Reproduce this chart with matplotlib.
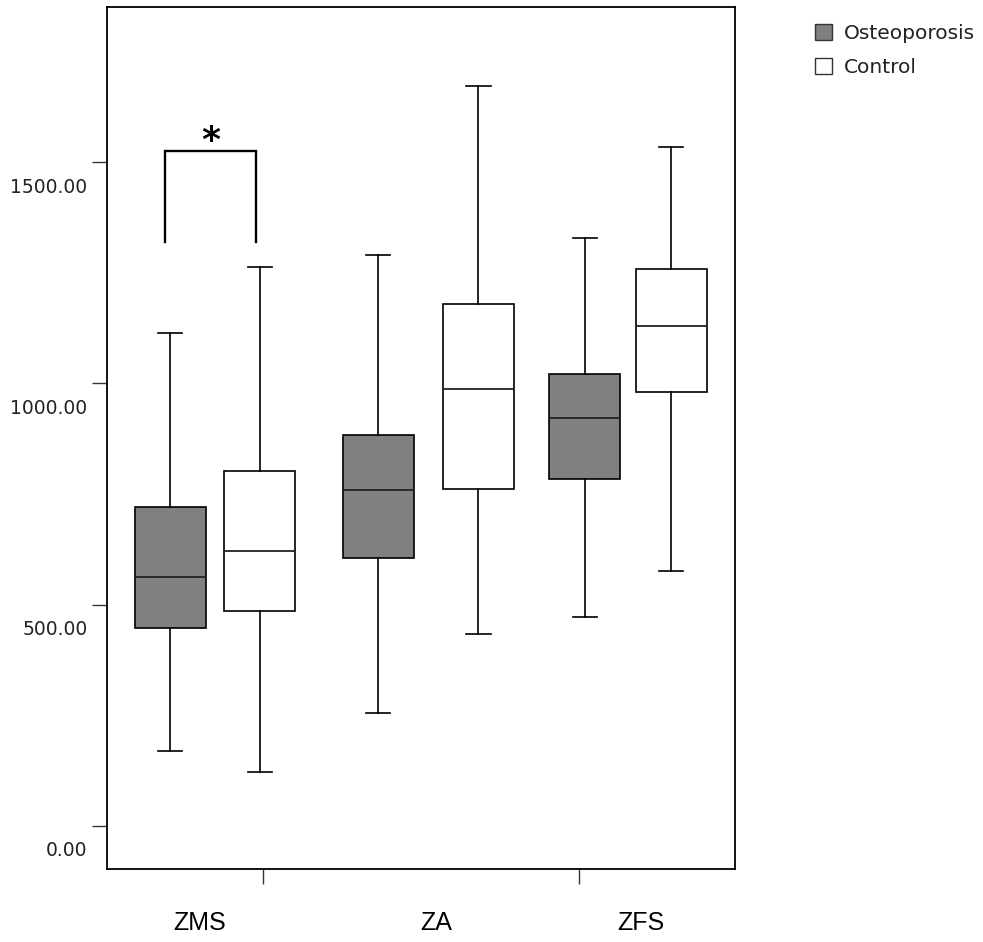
import matplotlib
matplotlib.use("Agg")
import matplotlib.pyplot as plt
import matplotlib.patches as mpatches
from matplotlib.transforms import ScaledTranslation, blended_transform_factory
import numpy as np

# ---------------- data ----------------
categories = ["ZMS", "ZA", "ZFS"]
series_names = ["Osteoporosis", "Control"]

osteo_whislo = [170, 256, 472]
osteo_q1 = [447, 606, 784]
osteo_med = [563, 758, 921]
osteo_q3 = [720, 883, 1021]
osteo_whishi = [1114, 1291, 1329]

ctrl_whislo = [123, 433, 575]
ctrl_q1 = [486, 762, 981]
ctrl_med = [621, 987, 1130]
ctrl_q3 = [803, 1179, 1259]
ctrl_whishi = [1263, 1672, 1535]

ytick_values = [0, 500, 1000, 1500]
ytick_labels = ["0.00", "500.00", "1000.00", "1500.00"]

# significance bracket (ZMS)
sig_low = 1320
sig_high = 1526
sig_label = "*"

# ---------------- figure ----------------
W, H, DPI = 983, 942, 100
fig = plt.figure(figsize=(W / DPI, H / DPI), dpi=DPI)
ax = fig.add_axes([107 / W, 1 - 869 / H, (735 - 107) / W, (869 - 7) / H])

group_centers = np.array([1.0, 2.03, 2.995])
group_offsets = np.array([0.217, 0.242, 0.208])
box_w = 0.343

def make_stats(lo, q1, med, q3, hi):
    return [dict(whislo=a, q1=b, med=c, q3=d, whishi=e, fliers=[])
            for a, b, c, d, e in zip(lo, q1, med, q3, hi)]

line_kw = dict(color="black", linewidth=1.2)
common = dict(widths=box_w, patch_artist=True, showfliers=False,
              whiskerprops=line_kw, capprops=line_kw,
              medianprops=dict(color="#222222", linewidth=1.3),
              capwidths=0.118, manage_ticks=False)

ax.bxp(make_stats(osteo_whislo, osteo_q1, osteo_med, osteo_q3, osteo_whishi),
       positions=group_centers - group_offsets,
       boxprops=dict(facecolor="#808080", edgecolor="black", linewidth=1.2),
       **common)
ax.bxp(make_stats(ctrl_whislo, ctrl_q1, ctrl_med, ctrl_q3, ctrl_whishi),
       positions=group_centers + group_offsets,
       boxprops=dict(facecolor="white", edgecolor="black", linewidth=1.2),
       **common)

ax.set_xlim(0.478, 3.512)
ax.set_ylim(-97.2, 1850.4)

# spines
for s in ax.spines.values():
    s.set_linewidth(1.3)
    s.set_color("black")

# y ticks
ax.set_yticks(ytick_values)
ax.set_yticklabels(ytick_labels, fontsize=13.5, color="#222222")
ax.tick_params(axis="y", direction="out", length=11, width=1.0, pad=3,
               color="#333333")
for lab in ax.get_yticklabels():
    lab.set_transform(lab.get_transform() +
                      ScaledTranslation(0, -0.23, fig.dpi_scale_trans))

# x ticks (unlabelled) and category labels
ax.set_xticks([1.232, 2.758])
ax.set_xticklabels(["", ""])
ax.tick_params(axis="x", direction="out", length=11, width=1.0, color="#333333")

label_x = [0.925, 2.07, 3.055]
trans = blended_transform_factory(ax.transData, fig.transFigure)
for xx, cat in zip(label_x, categories):
    ax.text(xx, 1 - 923 / H, cat, transform=trans, ha="center", va="center",
            fontsize=18, family=["Liberation Sans", "DejaVu Sans"],
            color="black", clip_on=False)

# significance bracket
xl = group_centers[0] - group_offsets[0] - 0.024
xr = group_centers[0] + group_offsets[0] - 0.02
ax.plot([xl, xl, xr, xr], [sig_low, sig_high, sig_high, sig_low],
        color="black", linewidth=1.7, solid_joinstyle="miter")
ax.text((xl + xr) / 2, 1548, sig_label, ha="center", va="center",
        fontsize=26, fontweight="bold", color="black")

# legend
handles = [mpatches.Patch(facecolor="#808080", edgecolor="#333333", linewidth=1.0),
           mpatches.Patch(facecolor="white", edgecolor="#333333", linewidth=1.0)]
fig.legend(handles, series_names, loc="upper left",
           bbox_to_anchor=(815 / W, 1 - 24 / H), frameon=False,
           fontsize=14.5, handlelength=0.85, handleheight=0.85,
           handletextpad=0.6, labelspacing=0.72, borderpad=0,
           borderaxespad=0, labelcolor="#222222")

fig.savefig("out.png", dpi=DPI)
